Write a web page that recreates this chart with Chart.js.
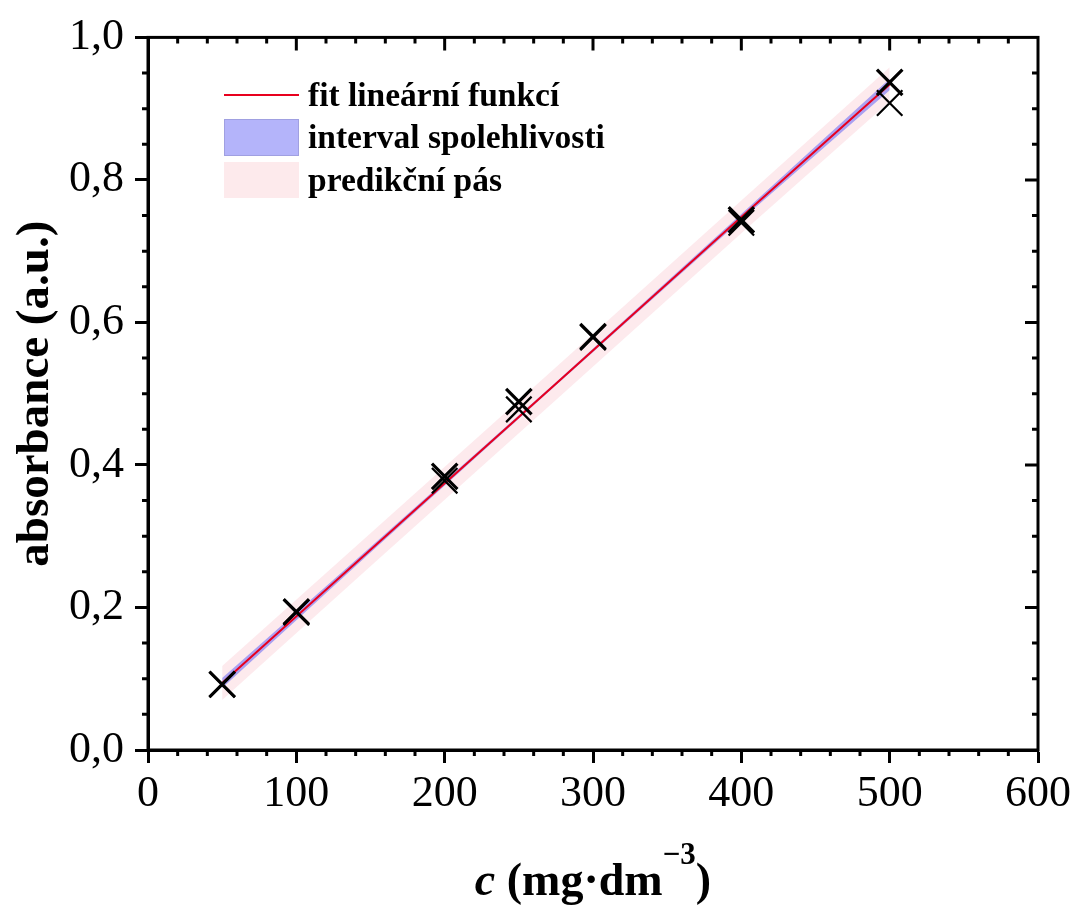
<!DOCTYPE html>
<html>
<head>
<meta charset="utf-8">
<script src="https://cdn.jsdelivr.net/npm/chart.js@4.4.0/dist/chart.umd.min.js"></script>
<style>
html, body { margin: 0; padding: 0; background: #fff; }
canvas { display: block; }
</style>
</head>
<body>
<canvas id="myChart" width="1078" height="909"></canvas>
<script>
// measured absorbance, two replicates per concentration
const conc = [50, 100, 200, 250, 300, 400, 500];
const absA = [0.092, 0.194, 0.384, 0.489, 0.580, 0.744, 0.937];
const absB = [0.092, 0.193, 0.378, 0.478, 0.579, 0.740, 0.908];

// fit line and bands
const bandX  = [50, 150, 275, 400, 500];
const fitY   = [0.094, 0.281, 0.514, 0.748, 0.934];
const confHi = [0.101, 0.285, 0.516, 0.752, 0.942];
const confLo = [0.087, 0.277, 0.512, 0.744, 0.926];
const predHi = [0.118, 0.304, 0.537, 0.771, 0.958];
const predLo = [0.070, 0.258, 0.491, 0.725, 0.910];

const xTickLabels = ['0', '100', '200', '300', '400', '500', '600'];
const yTickLabels = ['0,0', '0,2', '0,4', '0,6', '0,8', '1,0'];
const legendLabels = ['fit lineární funkcí', 'interval spolehlivosti', 'predikční pás'];

const SERIF = '"Liberation Serif", "Times New Roman", serif';

function pts(xs, ys) {
    return xs.map((x, i) => ({x: x, y: ys[i]}));
}

const frame = {
    id: 'frame',
    afterDraw(chart) {
        const ctx = chart.ctx;
        const a = chart.chartArea;
        const x = chart.scales.x, y = chart.scales.y;
        ctx.save();
        ctx.strokeStyle = '#000';
        ctx.lineWidth = 3;
        ctx.beginPath();
        // minor ticks outside, ticks inside on top/right
        for (let v = 0; v <= 600; v += 20) {
            const px = x.getPixelForValue(v);
            const major = v % 100 === 0;
            if (!major) { ctx.moveTo(px, a.bottom); ctx.lineTo(px, a.bottom + 6); }
            if (v > 0 && v < 600) { ctx.moveTo(px, a.top); ctx.lineTo(px, a.top + (major ? 13 : 6)); }
        }
        for (let k = 0; k <= 20; k++) {
            const py = y.getPixelForValue(k * 0.05);
            const major = k % 4 === 0;
            if (!major) { ctx.moveTo(a.left, py); ctx.lineTo(a.left - 6, py); }
            if (k > 0 && k < 20) { ctx.moveTo(a.right, py); ctx.lineTo(a.right - (major ? 13 : 6), py); }
        }
        ctx.stroke();
        ctx.strokeRect(a.left, a.top, a.right - a.left, a.bottom - a.top);

        // legend
        ctx.font = 'bold 33.5px ' + SERIF;
        ctx.textBaseline = 'middle';
        ctx.textAlign = 'left';
        ctx.fillStyle = '#000';
        ctx.strokeStyle = '#e8001e';
        ctx.lineWidth = 2;
        ctx.beginPath();
        ctx.moveTo(224, 95); ctx.lineTo(299, 95);
        ctx.stroke();
        ctx.fillStyle = 'rgb(180,180,250)';
        ctx.fillRect(224, 119, 75, 37);
        ctx.strokeStyle = 'rgb(160,160,225)';
        ctx.lineWidth = 1;
        ctx.strokeRect(224.5, 119.5, 74, 36);
        ctx.fillStyle = 'rgb(253,234,236)';
        ctx.fillRect(224, 162, 75, 36);
        ctx.fillStyle = '#000';
        ctx.fillText(legendLabels[0], 308, 97);
        ctx.fillText(legendLabels[1], 308, 139);
        ctx.fillText(legendLabels[2], 308, 182);

        // x axis title with italic c and superscript
        const parts = [
            {t: 'c', f: 'italic bold 46px ' + SERIF, dy: 0},
            {t: ' (mg\u00b7dm', f: 'bold 46px ' + SERIF, dy: 0},
            {t: '\u22123', f: 'bold 31px ' + SERIF, dy: -31},
            {t: ')', f: 'bold 46px ' + SERIF, dy: 0}
        ];
        let total = 0;
        parts.forEach(p => { ctx.font = p.f; p.w = ctx.measureText(p.t).width; total += p.w; });
        let cx = (a.left + a.right) / 2 - total / 2;
        ctx.textBaseline = 'alphabetic';
        parts.forEach(p => { ctx.font = p.f; ctx.fillText(p.t, cx, 895 + p.dy); cx += p.w; });
        ctx.restore();
    }
};

const ctx = document.getElementById('myChart').getContext('2d');
const myChart = new Chart(ctx, {
    type: 'scatter',
    data: {
        datasets: [
            {
                label: 'A', data: pts(conc, absA), order: 0,
                pointStyle: 'crossRot', pointRadius: 18, pointHoverRadius: 18,
                borderColor: '#000', backgroundColor: '#000', pointBorderWidth: 3.2
            },
            {
                label: 'B', data: pts(conc, absB), order: 0,
                pointStyle: 'crossRot', pointRadius: 18, pointHoverRadius: 18,
                borderColor: '#000', backgroundColor: '#000', pointBorderWidth: 2.2
            },
            {
                label: legendLabels[0], data: pts(bandX, fitY), order: 1,
                showLine: true, pointRadius: 0, borderColor: '#e8001e', borderWidth: 2, fill: false
            },
            {
                label: legendLabels[1], data: pts(bandX, confHi), order: 2,
                showLine: true, pointRadius: 0, borderWidth: 0, borderColor: 'rgba(0,0,0,0)',
                backgroundColor: 'rgba(90,90,245,0.5)', fill: '+1'
            },
            {
                label: 'confLo', data: pts(bandX, confLo), order: 2,
                showLine: true, pointRadius: 0, borderWidth: 0, borderColor: 'rgba(0,0,0,0)', fill: false
            },
            {
                label: legendLabels[2], data: pts(bandX, predHi), order: 3,
                showLine: true, pointRadius: 0, borderWidth: 0, borderColor: 'rgba(0,0,0,0)',
                backgroundColor: 'rgba(250,190,198,0.32)', fill: '+1'
            },
            {
                label: 'predLo', data: pts(bandX, predLo), order: 3,
                showLine: true, pointRadius: 0, borderWidth: 0, borderColor: 'rgba(0,0,0,0)', fill: false
            }
        ]
    },
    options: {
        responsive: false,
        animation: false,
        layout: { padding: { top: 32, right: 40, left: 0, bottom: 0 } },
        plugins: { legend: { display: false }, tooltip: { enabled: false } },
        scales: {
            x: {
                type: 'linear', min: 0, max: 600,
                afterFit: s => { s.height = 159; },
                ticks: {
                    stepSize: 100, padding: 5, color: '#000',
                    font: { family: SERIF, size: 44, lineHeight: 1.2 },
                    callback: v => xTickLabels[Math.round(v / 100)]
                },
                grid: { drawOnChartArea: false, tickLength: 13, tickColor: '#000', tickWidth: 3 },
                border: { display: true, color: '#000', width: 3 }
            },
            y: {
                type: 'linear', min: 0, max: 1,
                afterFit: s => { s.width = 148; },
                ticks: {
                    stepSize: 0.2, padding: 11, color: '#000',
                    font: { family: SERIF, size: 44, lineHeight: 1.2 },
                    callback: v => yTickLabels[Math.round(v / 0.2)]
                },
                grid: { drawOnChartArea: false, tickLength: 13, tickColor: '#000', tickWidth: 3 },
                border: { display: true, color: '#000', width: 3 },
                title: {
                    display: true, text: 'absorbance (a.u.)', color: '#000',
                    font: { family: SERIF, size: 47, weight: 'bold', lineHeight: 1.2 },
                    padding: { top: 8, bottom: 0 }
                }
            }
        }
    },
    plugins: [frame]
});
</script>
</body>
</html>
